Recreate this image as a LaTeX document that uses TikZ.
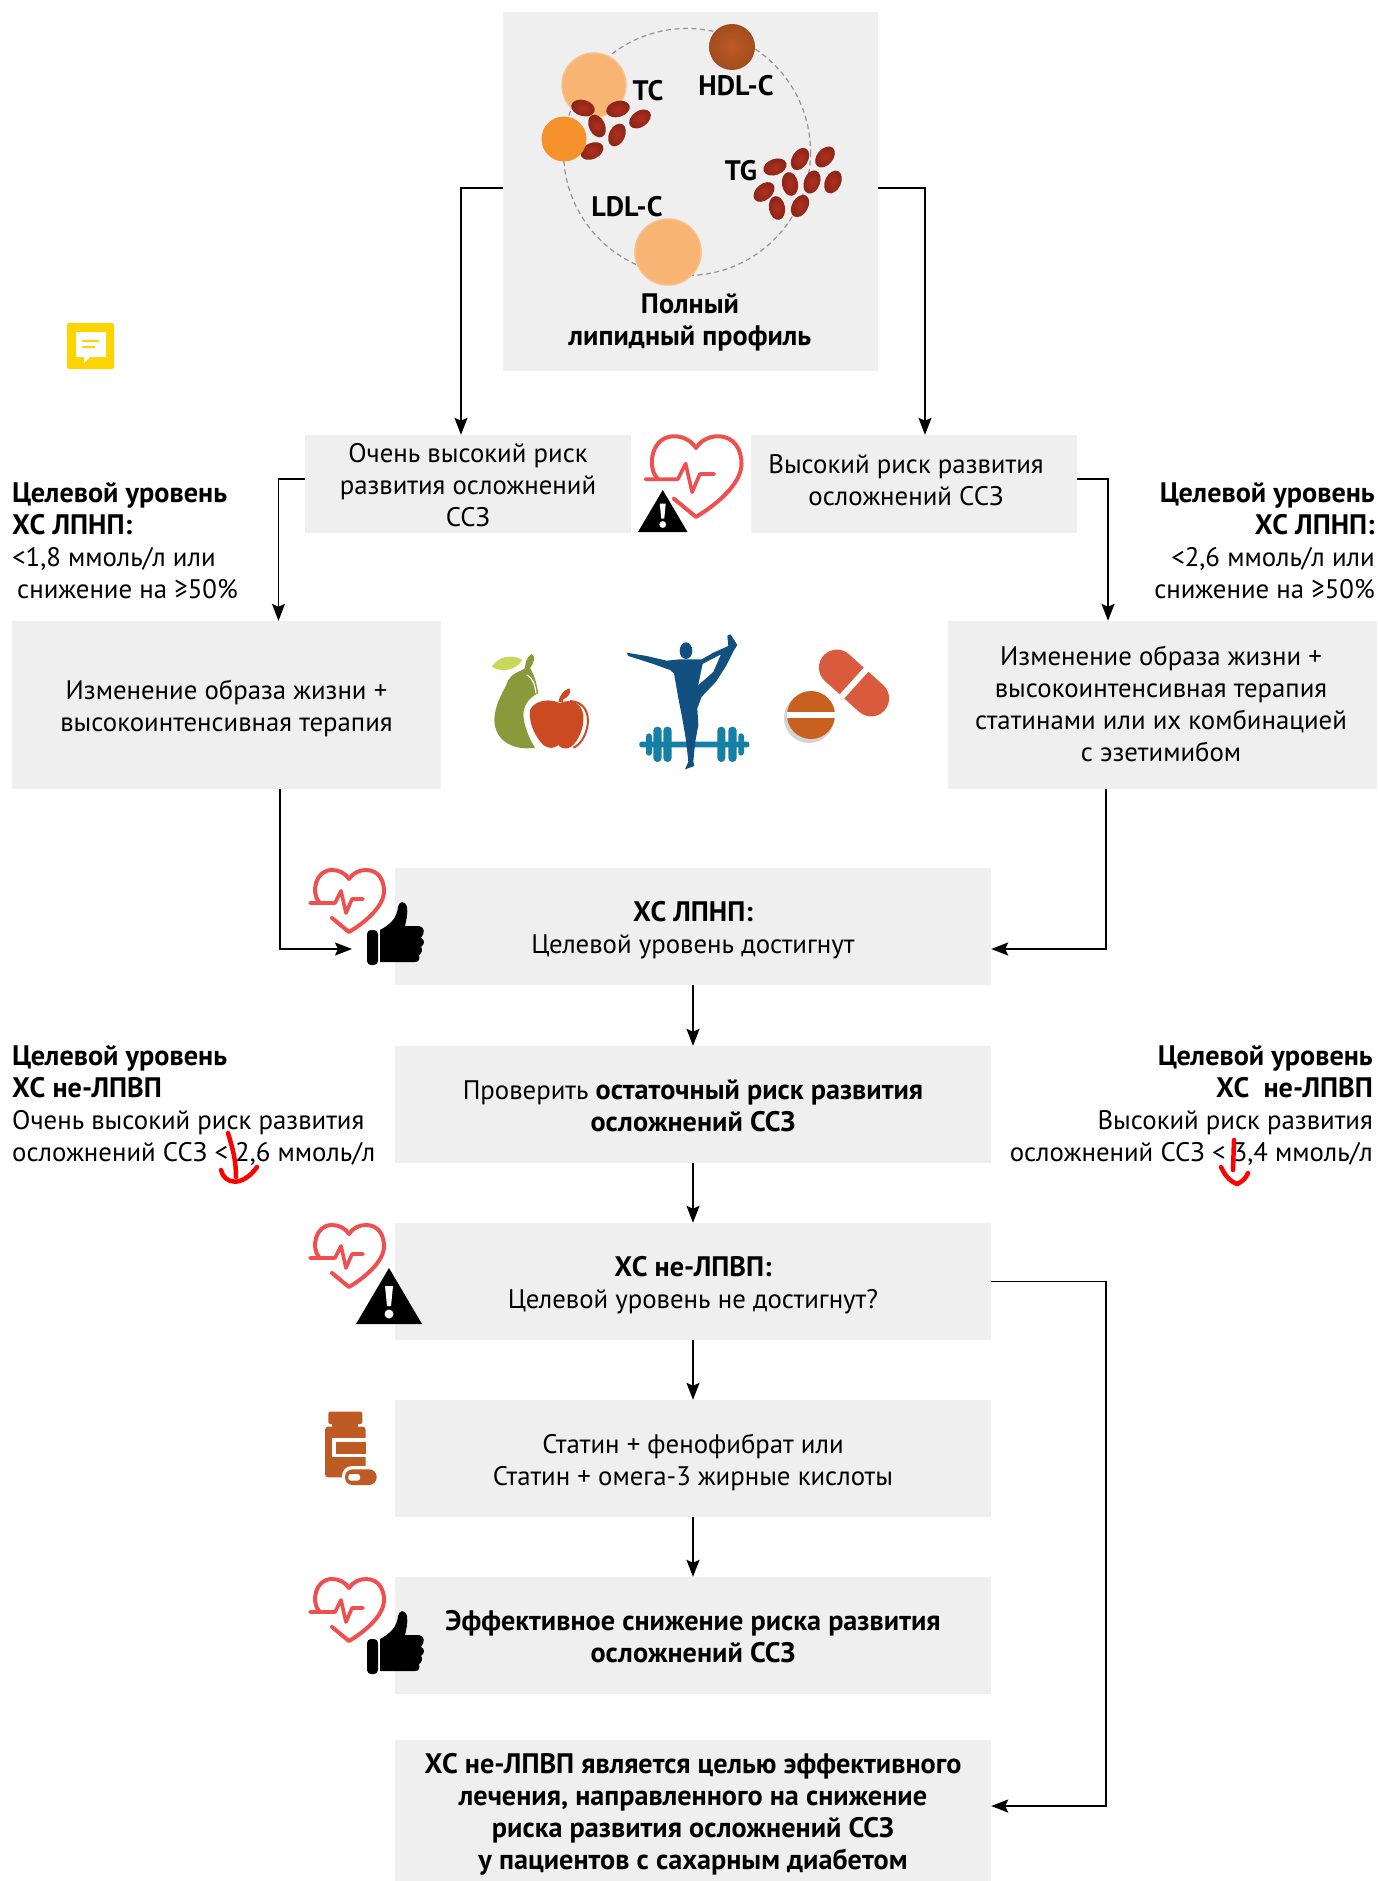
\documentclass[tikz,border=0pt]{standalone}
\usepackage{fontspec}
\setmainfont{PT Sans}
\usetikzlibrary{arrows.meta}
\definecolor{boxgray}{HTML}{EFEFEF}
\definecolor{heartred}{HTML}{EF4F4F}
\definecolor{bottlec}{HTML}{BE5A24}
\definecolor{pearc}{HTML}{8A9A3A}
\definecolor{leafc}{HTML}{C8D85A}
\definecolor{applec}{HTML}{CC4A22}
\definecolor{gymc}{HTML}{12507F}
\definecolor{barc}{HTML}{157FA5}
\definecolor{darkblob}{HTML}{8A2415}
\definecolor{midblob}{HTML}{AE3020}
\definecolor{peach}{HTML}{F8B473}
\definecolor{peachrim}{HTML}{F9C089}
\definecolor{orangeb}{HTML}{F5922B}
\definecolor{capsc}{HTML}{DA5A3E}
\definecolor{notec}{HTML}{FFD400}
\newcommand{\bt}[1]{{\fontsize{28.2}{32}\selectfont\bfseries #1}}
\newcommand{\blob}[3]{\shade[inner color=midblob,outer color=darkblob,shift={(#1,#2)},rotate=#3] (0,0) ellipse [x radius=12,y radius=8];}
\newcommand{\heartpic}[3]{\begin{scope}[shift={(#1,#2)},scale=#3]
\draw[heartred,line width=4pt,line join=round,line cap=round] (10,33) .. controls (2,24) and (6,1) .. (23,1) .. controls (30,1) and (36,4) .. (40,10) .. controls (44,4) and (50,1) .. (57,1) .. controls (70,1) and (75,12) .. (75,22) .. controls (75,38) and (55,54) .. (40,63) -- (23,49);
\draw[heartred,line width=3.6pt,line join=round,line cap=round] (1,34) -- (26,34) -- (32,22) -- (37,44) -- (43,30) -- (54,30);
\end{scope}}
\newcommand{\thumbpic}[2]{\begin{scope}[shift={(#1,#2)}]
\fill[black,rounded corners=4pt] (0,29) rectangle (11,64);
\fill[black] (13,29) .. controls (22,24) and (30,18) .. (31,6) .. controls (32,0) and (38,-1) .. (40,6) .. controls (41,14) and (39,20) .. (38,25) -- (52,25) .. controls (58,26) and (58,32) .. (54,37) .. controls (58,39) and (58,43) .. (54,46) .. controls (56,48) and (55,52) .. (52,54) .. controls (53,58) and (52,61) .. (48,61) -- (13,61) -- cycle;
\end{scope}}
\newcommand{\warnpic}[3]{\begin{scope}[shift={(#1,#2)},scale=#3]
\fill[black] (33,0) -- (66,56) -- (0,56) -- cycle;
\fill[white] (29,18) -- (37,18) -- (35,38) -- (31,38) -- cycle;
\fill[white] (33,46) circle [radius=4.5];
\end{scope}}
\tikzset{
 x=1pt,y=-1pt,
 boxstyle/.style={fill=boxgray,inner sep=0pt},
 txt/.style={font=\fontsize{26.8}{32}\selectfont,inner sep=0pt,text=black},
 ball/.style={font=\fontsize{28.2}{32}\selectfont\bfseries,inner sep=0pt,text=black},
 conn/.style={line width=1.8pt,draw=black,-{Stealth[length=17pt,width=13pt,inset=3pt]}},
 redpen/.style={red,line width=4.5pt,line cap=round,line join=round},
 bigball/.style={fill=peach,draw=peachrim,line width=1.5pt},
}
\begin{document}
\begin{tikzpicture}
\useasboundingbox (0,0) rectangle (1377,1881);
% boxes
\node[boxstyle,minimum width=375pt,minimum height=359pt] (top) at (690.5,191.5) {};
\node[boxstyle,minimum width=326pt,minimum height=98pt] (vh) at (468,484) {};
\node[boxstyle,minimum width=326pt,minimum height=98pt] (hr) at (914,484) {};
\node[boxstyle,minimum width=429pt,minimum height=168pt] (lb) at (226.5,705) {};
\node[boxstyle,minimum width=429pt,minimum height=168pt] (rb) at (1162.5,705) {};
\node[boxstyle,minimum width=596pt,minimum height=117pt] (g1) at (693,926.5) {};
\node[boxstyle,minimum width=596pt,minimum height=117pt] (g2) at (693,1104.5) {};
\node[boxstyle,minimum width=596pt,minimum height=117pt] (g3) at (693,1281.5) {};
\node[boxstyle,minimum width=596pt,minimum height=117pt] (g4) at (693,1458.5) {};
\node[boxstyle,minimum width=596pt,minimum height=117pt] (g5) at (693,1635.5) {};
\node[boxstyle,minimum width=596pt,minimum height=141pt] (g6) at (693,1810.5) {};
% box texts
\node[txt,align=center] (vht) at (468,485) {Очень высокий риск\\развития осложнений\\ССЗ};
\node[txt,align=center] (hrt) at (906,480) {Высокий риск развития\\осложнений ССЗ};
\node[txt,align=center] (lbt) at (226.5,708) {Изменение образа жизни +\\высокоинтенсивная терапия};
\node[txt,align=center] (rbt) at (1161,704) {Изменение образа жизни +\\высокоинтенсивная терапия\\статинами или их комбинацией\\с эзетимибом};
\node[txt,align=center] (g1t) at (693,930) {\bt{ХС ЛПНП:}\\Целевой уровень достигнут};
\node[txt,align=center] (g2t) at (693,1106) {Проверить \bt{остаточный риск развития}\\\bt{осложнений ССЗ}};
\node[txt,align=center] (g3t) at (693,1285) {\bt{ХС не-ЛПВП:}\\Целевой уровень не достигнут?};
\node[txt,align=center] (g4t) at (693,1462) {Статин + фенофибрат или\\Статин + омега-3 жирные кислоты};
\node[txt,align=center] (g5t) at (693,1637) {\bt{Эффективное снижение риска развития}\\\bt{осложнений ССЗ}};
\node[txt,align=center] (g6t) at (693,1814) {\bt{ХС не-ЛПВП является целью эффективного}\\\bt{лечения, направленного на снижение}\\\bt{риска развития осложнений ССЗ}\\\bt{у пациентов с сахарным диабетом}};
% side text
\node[txt,align=left,anchor=west] (sl1) at (12,541) {\bt{Целевой уровень}\\\bt{ХС ЛПНП:}\\<1,8 ммоль/л или\\\hspace*{5pt}снижение на ≥50\%};
\node[txt,align=right,anchor=east] (sr1) at (1375,541) {\bt{Целевой уровень}\\\bt{ХС ЛПНП:}\\<2,6 ммоль/л или\\снижение на ≥50\%};
\node[txt,align=left,anchor=west] (sl2) at (12,1105.5) {\bt{Целевой уровень}\\\bt{ХС не-ЛПВП}\\Очень высокий риск развития\\осложнений ССЗ < 2,6 ммоль/л};
\node[txt,align=right,anchor=east] (sr2) at (1373,1105.5) {\bt{Целевой уровень}\\\bt{ХС\ \ не-ЛПВП}\\Высокий риск развития\\осложнений ССЗ < 3,4 ммоль/л};
% lipid circle
\draw[gray!85,line width=1.2pt,dash pattern=on 5pt off 3.5pt] (687,152) circle [radius=123.5];
\path[bigball] (594,85) circle [radius=32];
\blob{583}{108}{-15}
\blob{618}{109}{15}
\blob{640}{119}{35}
\blob{597}{126}{-65}
\blob{617}{135}{65}
\blob{592}{151}{25}
\fill[orangeb] (564,139) circle [radius=22.5];
\shade[inner color=bottlec,outer color=bottlec!85!black] (732,47) circle [radius=23];
\path[bigball] (668,252) circle [radius=33];
\blob{775}{167}{20}
\blob{800}{159}{60}
\blob{825}{157}{50}
\blob{764}{192}{40}
\blob{790}{184}{-80}
\blob{812}{182}{70}
\blob{833}{182}{65}
\blob{777}{208}{-80}
\blob{800}{206}{60}
\node[ball] (ltc) at (648,91) {TC};
\node[ball] (lhdl) at (736,86) {HDL-C};
\node[ball] (ltg) at (741,171) {TG};
\node[ball] (lldl) at (627,207) {LDL-C};
\node[ball,align=center] (lprof) at (690,322) {Полный\\липидный профиль};
% connectors
\coordinate (ldlin) at (352,949);
\draw[conn] ([yshift=3.5]top.west) -| ([xshift=-7]vh.north);
\draw[conn] ([yshift=3.5]top.east) -| ([xshift=11]hr.north);
\draw[conn] ([yshift=5]vh.west) -| ([xshift=52]lb.north);
\draw[conn] ([yshift=5]hr.east) -| ([xshift=-54.5]rb.north);
\draw[conn] ([xshift=53.5]lb.south) |- (ldlin);
\draw[conn] ([xshift=-56.5]rb.south) |- ([yshift=-22.5]g1.east);
\draw[conn] (g1) -- (g2);
\draw[conn] (g2) -- (g3);
\draw[conn] (g3) -- (g4);
\draw[conn] (g4) -- (g5);
\draw[conn] (g3.east) -- ++(115,0) |- ([yshift=4.5]g6.east);
% note icon
\fill[notec,rounded corners=2pt] (67,323) rectangle (114,369);
\fill[white] (76,332) -- (106,332) -- (106,357) -- (90,357) -- (84,363) -- (84,357) -- (76,357) -- cycle;
\draw[notec,line width=1.5pt] (82,341) -- (99,341) (82,347) -- (95,347);
% icons
\heartpic{644}{435}{1.3}
\warnpic{638}{490}{0.75}
\heartpic{309}{869}{1}
\thumbpic{367}{901}
\heartpic{309}{1224}{1}
\warnpic{356}{1268}{1}
\heartpic{309}{1578}{1}
\thumbpic{367}{1610}
% bottle
\begin{scope}[shift={(300,1400)},scale=1/3]
\fill[bottlec,rounded corners=2pt] (85,35) rectangle (187,72);
\fill[bottlec] (95,70) rectangle (175,85);
\fill[bottlec,rounded corners=3pt] (75,80) rectangle (197,232);
\fill[white] (97,115) rectangle (197,172);
\fill[bottlec] (107,125) rectangle (197,162);
\fill[white,rounded corners=10pt] (126,198) rectangle (238,264);
\fill[bottlec,rounded corners=7.5pt] (135,208) rectangle (230,255);
\fill[white,rounded corners=2.5pt] (145,222) rectangle (180,242);
\end{scope}
% fruit
\begin{scope}[shift={(480,630)},scale=1/3]
\fill[pearc] (155,72) .. controls (170,80) and (160,100) .. (150,115) .. controls (165,135) and (170,165) .. (175,190) .. controls (150,200) and (130,225) .. (130,255) .. controls (132,290) and (150,330) .. (165,353) .. controls (110,362) and (45,340) .. (43,270) .. controls (45,215) and (75,180) .. (85,150) .. controls (95,130) and (120,125) .. (135,115) .. controls (135,100) and (140,80) .. (155,72) -- cycle;
\fill[leafc] (35,110) .. controls (55,80) and (95,70) .. (127,90) .. controls (110,120) and (65,130) .. (35,110) -- cycle;
\draw[white,line width=1.2pt] (140,135) .. controls (160,145) and (165,165) .. (168,190);
\fill[applec] (150,240) .. controls (165,208) and (215,205) .. (240,220) .. controls (265,205) and (305,215) .. (310,255) .. controls (315,300) and (285,352) .. (262,355) .. controls (250,357) and (240,352) .. (235,345) .. controls (225,355) and (205,358) .. (190,345) .. controls (170,325) and (145,285) .. (150,240) -- cycle;
\fill[applec] (235,215) .. controls (240,195) and (250,180) .. (268,175) .. controls (275,185) and (268,200) .. (250,208) -- (248,218) -- cycle;
\draw[applec,line width=2pt] (270,213) .. controls (310,215) and (330,245) .. (322,290) .. controls (316,320) and (300,345) .. (280,353);
\end{scope}
% gymnast + barbell
\begin{scope}[shift={(480,630)},scale=1/3]
\fill[barc,rounded corners=2pt] (478,335) rectangle (808,352);
\fill[barc,rounded corners=3pt] (498,310) rectangle (516,377);
\fill[barc,rounded corners=3pt] (775,310) rectangle (792,377);
\fill[barc,rounded corners=4pt] (520,290) rectangle (545,396);
\fill[barc,rounded corners=4pt] (550,290) rectangle (575,396);
\fill[barc,rounded corners=4pt] (712,290) rectangle (736,396);
\fill[barc,rounded corners=4pt] (745,290) rectangle (770,396);
\fill[gymc] (618,62) ellipse [x radius=19,y radius=25];
\fill[gymc,line join=round] (440,68) -- (500,78) -- (560,92) -- (600,88) -- (640,88) -- (665,88) -- (700,68) -- (745,48) -- (742,17) -- (752,13) -- (772,45) -- (760,64) -- (738,108) -- (708,155) -- (665,200) -- (652,235) -- (655,285) -- (645,340) -- (640,395) -- (643,408) -- (615,418) -- (625,395) -- (618,330) -- (606,260) -- (596,210) -- (582,130) -- (570,120) -- (520,102) -- (445,78) -- cycle;
\fill[white] (722,74) -- (668,102) -- (655,165) -- (700,125) -- cycle;
\end{scope}
% pills
\begin{scope}[shift={(854,683)},rotate=-42]
\fill[capsc,rounded corners=18pt] (-41,-18) rectangle (41,18);
\fill[white] (-3,-20) rectangle (3,20);
\end{scope}
\fill[gray,opacity=.35] (809,718) circle [radius=25];
\fill[bottlec!85!orange] (811,715) circle [radius=24];
\fill[white] (787,712) rectangle (835,718);
% red pen
\draw[redpen] (228,1133) .. controls (233,1150) and (236,1160) .. (236,1177);
\draw[redpen] (221,1170) .. controls (224,1184) and (242,1188) .. (257,1167);
\draw[redpen] (1234,1140) -- (1233,1170);
\draw[redpen] (1221,1167) .. controls (1226,1178) and (1232,1182) .. (1237,1184) .. controls (1242,1182) and (1246,1178) .. (1248,1173);
\end{tikzpicture}
\end{document}
